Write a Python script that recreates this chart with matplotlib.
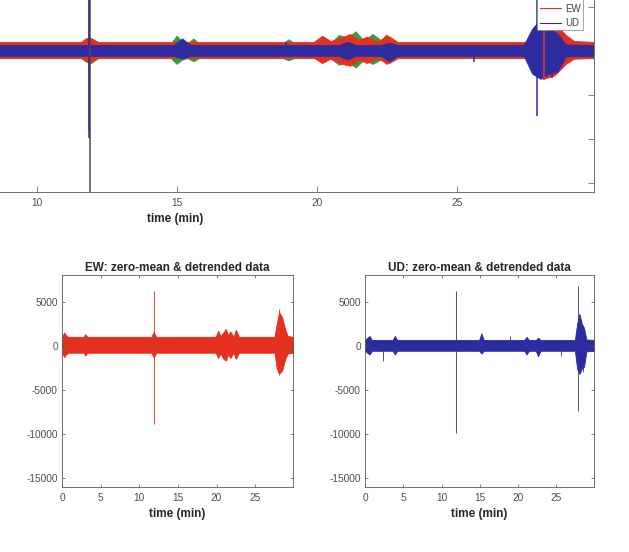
import matplotlib
matplotlib.use("Agg")
import matplotlib.pyplot as plt
from matplotlib.lines import Line2D

plt.rcParams['font.family'] = ['Liberation Sans', 'DejaVu Sans']
plt.rcParams['axes.unicode_minus'] = False

# ---------------- data ----------------
components = ["NS", "EW", "UD"]
colors = {"NS": "#3c9a3c", "EW": "#e4301f", "UD": "#2c2ca0"}
spike_colors = {"NS": "#4a504c", "EW": "#e4301f", "UD": "#2c2ca0"}

# envelope knots (time in min, upper / lower amplitude in counts)
ns_t  = [0.0, 11.6, 11.9, 12.2, 14.8, 15.0, 15.2, 15.4, 15.6, 15.8, 18.8, 19.0, 19.2,
         20.5, 20.8, 21.1, 21.4, 21.7, 22.0, 22.3, 22.6, 22.9, 27.6, 27.9, 28.3, 28.7, 29.9]
ns_hi = [850, 850, 1500, 850, 850, 1700, 1100, 850, 1400, 850, 850, 1300, 850,
         850, 1800, 1500, 2200, 1100, 1900, 1200, 1600, 850, 850, 2400, 2000, 900, 850]
ns_lo = [-850, -850, -1500, -850, -850, -1500, -1000, -850, -1200, -850, -850, -1100, -850,
         -850, -1600, -1300, -1900, -1000, -1500, -1000, -1400, -850, -850, -2200, -1800, -900, -850]

ew_t  = [0.0, 0.3, 0.5, 0.8, 2.8, 3.0, 3.3, 11.6, 11.75, 11.9, 12.2, 19.9, 20.2, 20.5,
         20.9, 21.2, 21.5, 21.8, 22.2, 22.5, 22.9, 27.5, 27.8, 28.1, 28.5, 28.9, 29.2, 29.9]
ew_hi = [1000, 1500, 1200, 1000, 1000, 1300, 1000, 1000, 1400, 1500, 1000, 1000, 1700, 1100,
         1500, 1900, 1200, 1600, 1000, 1800, 1000, 1000, 2500, 3800, 3200, 1800, 1100, 1000]
ew_lo = [-800, -1300, -1000, -800, -800, -1100, -800, -800, -1200, -1300, -800, -800, -1400, -900,
         -1500, -1700, -1000, -1400, -800, -1500, -800, -800, -2600, -3200, -2800, -1500, -900, -800]

ud_t  = [0.0, 0.3, 0.6, 0.9, 3.6, 3.9, 4.2, 14.9, 15.2, 15.5, 20.8, 21.1, 21.4,
         22.3, 22.6, 22.9, 27.4, 27.7, 28.0, 28.3, 28.6, 28.9, 29.9]
ud_hi = [650, 900, 1100, 650, 650, 1100, 650, 650, 1400, 650, 650, 1000, 650,
         650, 900, 650, 650, 2500, 3600, 2500, 2000, 700, 650]
ud_lo = [-580, -800, -1000, -580, -580, -1000, -580, -580, -900, -580, -580, -1000, -580,
         -580, -1200, -580, -580, -2600, -3200, -2600, -2400, -650, -580]

# isolated spikes (time, max, min)
ns_spike_t, ns_spike_hi, ns_spike_lo = [11.9], [9000], [-16500]
ew_spike_t, ew_spike_hi, ew_spike_lo = [11.85, 28.1], [6200, 4200], [-8900, -3300]
ud_spike_t  = [2.4, 11.85, 18.9, 25.6, 27.85, 28.4]
ud_spike_hi = [600, 6200, 1100, 600, 6800, 2200]
ud_spike_lo = [-1700, -9900, -600, -1200, -7400, -3000]

env = {"NS": (ns_t, ns_hi, ns_lo), "EW": (ew_t, ew_hi, ew_lo), "UD": (ud_t, ud_hi, ud_lo)}
spk = {"NS": (ns_spike_t, ns_spike_hi, ns_spike_lo),
       "EW": (ew_spike_t, ew_spike_hi, ew_spike_lo),
       "UD": (ud_spike_t, ud_spike_hi, ud_spike_lo)}

x_ticks = [0, 5, 10, 15, 20, 25]
x_ticklabels = ["0", "5", "10", "15", "20", "25"]
top_x_ticklabels = ["", "", "10", "15", "20", "25"]   # 0 and 5 fall outside the crop
y_ticks = [-15000, -10000, -5000, 0, 5000]
x_max = 29.9
y_lim = (-16000, 8000)

# ---------------- drawing ----------------
fig = plt.figure(figsize=(6.29, 5.52), dpi=100)
W, H = 629.0, 552.0


def axes_px(left, right, top, bottom):
    return fig.add_axes([left / W, (H - bottom) / H, (right - left) / W, (bottom - top) / H])


def draw_comp(ax, c, spike_lw):
    t, hi, lo = env[c]
    ax.fill_between(t, lo, hi, color=colors[c], linewidth=0.6, edgecolor=colors[c])
    st, sh, sl = spk[c]
    ax.vlines(st, sl, sh, color=spike_colors[c], linewidth=spike_lw)


def style(ax, ticklen):
    ax.set_xlim(0, x_max)
    ax.set_ylim(*y_lim)
    ax.set_xticks(x_ticks)
    ax.set_yticks(y_ticks)
    ax.set_xticklabels(x_ticklabels)
    ax.tick_params(direction='in', top=True, right=True, length=ticklen, width=0.5,
                   labelsize=7.3, colors='0.3')
    ax.tick_params(axis='x', pad=4.5)
    ax.tick_params(axis='y', pad=3)
    for s in ax.spines.values():
        s.set_linewidth(0.6)
        s.set_color('0.35')
    ax.set_xlabel('time (min)', fontsize=8.5, fontweight='bold', color='0.15', labelpad=3.5)


# top overview axes (extends beyond the figure crop)
x0_px = 37 - 10 * 28.0
ax_top = axes_px(x0_px, x0_px + x_max * 28.0, 192 - 24000 / 5000 * 44.0, 192)
for c in components:
    draw_comp(ax_top, c, 1.1)
style(ax_top, 4.5)
ax_top.set_xticklabels(top_x_ticklabels)
ax_top.tick_params(axis='y', labelleft=False)
handles = [Line2D([0], [0], color=colors[c], lw=0.8) for c in components]
leg = ax_top.legend(handles, components, loc='upper right',
                    bbox_to_anchor=(588 / W, (H + 18) / H), bbox_transform=fig.transFigure,
                    fontsize=7, handlelength=2.2, handletextpad=0.4, borderpad=0.25,
                    labelspacing=0.45, fancybox=False, framealpha=1, edgecolor='0.5')
leg.get_frame().set_linewidth(0.5)
for txt in leg.get_texts():
    txt.set_color('0.25')

# bottom-left: EW
ax_ew = axes_px(62, 293, 275, 487)
draw_comp(ax_ew, "EW", 0.6)
style(ax_ew, 2.5)
ax_ew.set_title('EW: zero-mean & detrended data', fontsize=8.5, fontweight='bold',
                color='0.15', pad=3)

# bottom-right: UD
ax_ud = axes_px(365, 594, 275, 487)
draw_comp(ax_ud, "UD", 0.6)
style(ax_ud, 2.5)
ax_ud.set_title('UD: zero-mean & detrended data', fontsize=8.5, fontweight='bold',
                color='0.15', pad=3)

fig.savefig('out.png', dpi=100)
